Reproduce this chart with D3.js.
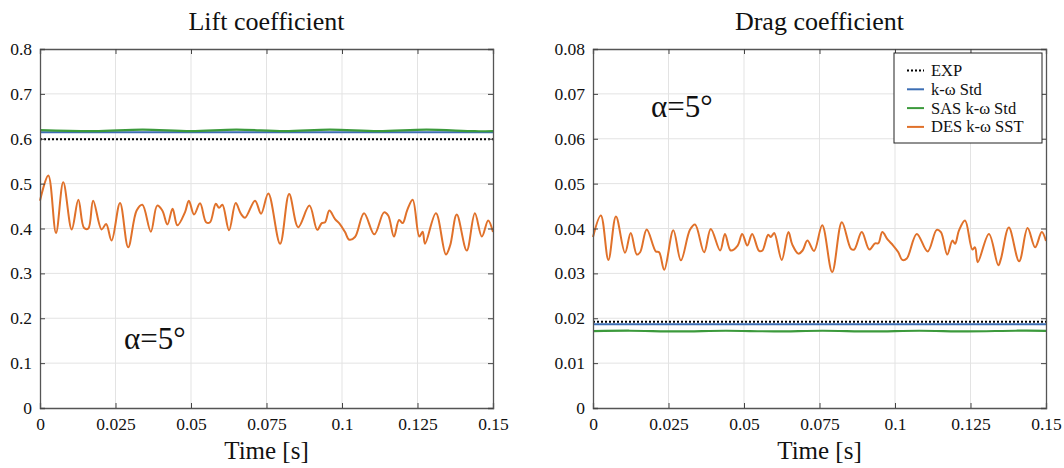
<!DOCTYPE html>
<html>
<head>
<meta charset="utf-8">
<script src="https://cdn.jsdelivr.net/npm/d3@7"></script>
<style>
  body { margin: 0; background: #fff; }
  text { font-family: "Liberation Serif", "DejaVu Serif", serif; fill: #111; }
  .grid line { stroke: #e3e3e3; stroke-width: 1; }
</style>
</head>
<body>
<svg id="chart" width="1064" height="468"></svg>
<script>
// time axis ticks
var timeTicks = [0, 0.025, 0.05, 0.075, 0.1, 0.125, 0.15];
var liftTicks = [0, 0.1, 0.2, 0.3, 0.4, 0.5, 0.6, 0.7, 0.8];
var dragTicks = [0, 0.01, 0.02, 0.03, 0.04, 0.05, 0.06, 0.07, 0.08];

// lift coefficient
var liftExp = [[0, 0.5987], [0.15, 0.5987]];
var liftStd = [[0, 0.6143], [0.15, 0.6143]];
var liftSasT = [0, 0.018, 0.034, 0.05, 0.065, 0.081, 0.096, 0.112, 0.128, 0.144, 0.15];
var liftSasV = [0.619, 0.6168, 0.6203, 0.6168, 0.6203, 0.6168, 0.6203, 0.6168, 0.6203, 0.6168, 0.6172];
var liftDesT = [0, 0.00275, 0.0053, 0.0077, 0.0105, 0.0127, 0.0146, 0.016, 0.0176, 0.0204, 0.0219, 0.0237,
  0.0265, 0.0292, 0.032, 0.0339, 0.0367, 0.0388, 0.0405, 0.0422, 0.0439, 0.0455, 0.048, 0.0493, 0.051,
  0.053, 0.055, 0.0563, 0.0582, 0.0593, 0.0604, 0.0626, 0.0648, 0.0665, 0.0679, 0.0712, 0.0732, 0.0756,
  0.0795, 0.0825, 0.0855, 0.0892, 0.0918, 0.0933, 0.0944, 0.0958, 0.0977, 0.0993, 0.101, 0.1024, 0.1043,
  0.1073, 0.1107, 0.1139, 0.1153, 0.1172, 0.1189, 0.1201, 0.1216, 0.1234, 0.1256, 0.1267, 0.1275, 0.1311,
  0.1344, 0.1358, 0.138, 0.1413, 0.144, 0.1463, 0.1484, 0.15];
var liftDesV = [0.462, 0.518, 0.39, 0.503, 0.398, 0.464, 0.401, 0.40, 0.462, 0.398, 0.41, 0.373,
  0.457, 0.358, 0.44, 0.453, 0.393, 0.451, 0.44, 0.409, 0.444, 0.407, 0.436, 0.462, 0.431,
  0.456, 0.414, 0.414, 0.455, 0.446, 0.453, 0.396, 0.457, 0.433, 0.424, 0.462, 0.433, 0.478,
  0.366, 0.477, 0.403, 0.451, 0.397, 0.412, 0.414, 0.44, 0.421, 0.41, 0.392, 0.375, 0.381,
  0.434, 0.387, 0.436, 0.429, 0.382, 0.419, 0.412, 0.441, 0.464, 0.382, 0.393, 0.366, 0.434,
  0.342, 0.362, 0.431, 0.351, 0.434, 0.382, 0.418, 0.392];

// drag coefficient
var dragExp = [[0, 0.01923], [0.15, 0.01923]];
var dragStd = [[0, 0.01865], [0.15, 0.01865]];
var dragSasT = [0, 0.012, 0.028, 0.044, 0.06, 0.076, 0.092, 0.108, 0.124, 0.14, 0.15];
var dragSasV = [0.01712, 0.01722, 0.01708, 0.01722, 0.01708, 0.01722, 0.01708, 0.01722, 0.01708, 0.01722, 0.0172];
var dragDesT = [0, 0.0026, 0.0051, 0.0076, 0.0106, 0.0125, 0.0145, 0.0156, 0.0178, 0.0208, 0.0219, 0.0236,
  0.0266, 0.0291, 0.0321, 0.0338, 0.0368, 0.039, 0.0421, 0.0437, 0.0456, 0.0479, 0.0494, 0.0511,
  0.0527, 0.055, 0.0561, 0.058, 0.0589, 0.06, 0.0625, 0.0647, 0.066, 0.068, 0.0694, 0.071, 0.0732,
  0.0759, 0.0792, 0.0824, 0.0854, 0.0865, 0.089, 0.0915, 0.0934, 0.0945, 0.0958, 0.0976, 0.0994,
  0.1011, 0.1024, 0.1039, 0.1072, 0.1108, 0.1138, 0.1152, 0.1173, 0.119, 0.1199, 0.1212, 0.1232,
  0.1256, 0.1265, 0.1274, 0.1311, 0.1342, 0.1351, 0.1377, 0.1411, 0.1439, 0.1464, 0.1486, 0.15];
var dragDesV = [0.0381, 0.0429, 0.033, 0.0427, 0.0346, 0.039, 0.0342, 0.0347, 0.0398, 0.0349, 0.0347, 0.0308,
  0.0396, 0.0329, 0.0397, 0.0409, 0.0347, 0.0399, 0.0351, 0.0388, 0.0351, 0.0362, 0.0388, 0.0362,
  0.0388, 0.035, 0.0351, 0.0386, 0.0381, 0.039, 0.033, 0.0392, 0.0364, 0.0344, 0.0351, 0.0373, 0.035,
  0.0407, 0.0303, 0.0414, 0.0355, 0.0353, 0.0392, 0.0353, 0.0367, 0.0367, 0.0392, 0.0375, 0.0362,
  0.0347, 0.033, 0.0333, 0.0388, 0.0349, 0.0397, 0.0392, 0.0342, 0.0373, 0.0366, 0.0396, 0.0418,
  0.0353, 0.0358, 0.0325, 0.0388, 0.0318, 0.0333, 0.0402, 0.0327, 0.0401, 0.0358, 0.0392, 0.0372];

var seriesNames = ["EXP", "k-\u03c9 Std", "SAS k-\u03c9 Std", "DES k-\u03c9 SST"];
var colors = {exp: "#000", std: "#3c6eb4", sas: "#3c9a3c", des: "#e0712a"};
var serif = "'Liberation Serif', 'DejaVu Serif', serif";

var svg = d3.select("#chart");

function zip(t, v) { return t.map(function(d, i) { return [d, v[i]]; }); }

function panel(opt) {
    var x = d3.scaleLinear().domain([0, 0.15]).range([opt.left, opt.left + 453]);
    var y = d3.scaleLinear().domain(opt.ydom).range([408, 49]);
    var g = svg.append("g");

    // grid
    var grid = g.append("g").attr("class", "grid");
    grid.selectAll(".vx").data(timeTicks.slice(1, -1)).enter().append("line")
        .attr("x1", function(d) { return x(d); }).attr("x2", function(d) { return x(d); })
        .attr("y1", y.range()[0]).attr("y2", y.range()[1]);
    grid.selectAll(".hy").data(opt.ticks.slice(1, -1)).enter().append("line")
        .attr("y1", function(d) { return y(d); }).attr("y2", function(d) { return y(d); })
        .attr("x1", x.range()[0]).attr("x2", x.range()[1]);

    var line = d3.line().x(function(d) { return x(d[0]); }).y(function(d) { return y(d[1]); });
    var smooth = d3.line().curve(d3.curveCatmullRom.alpha(0.5))
        .x(function(d) { return x(d[0]); }).y(function(d) { return y(d[1]); });

    g.append("path").attr("d", smooth(opt.des)).attr("fill", "none")
        .attr("stroke", colors.des).attr("stroke-width", 2);
    g.append("path").attr("d", line(opt.std)).attr("fill", "none")
        .attr("stroke", colors.std).attr("stroke-width", 2);
    g.append("path").attr("d", smooth(opt.sas)).attr("fill", "none")
        .attr("stroke", colors.sas).attr("stroke-width", 2.2);
    g.append("path").attr("d", line(opt.exp)).attr("fill", "none")
        .attr("stroke", colors.exp).attr("stroke-width", 2).attr("stroke-dasharray", "2,2");

    // axes (ticks inside, box on)
    var fmt = function(d) { return d3.format("")(+d.toFixed(4)); };
    g.append("g").attr("transform", "translate(0,408)")
        .call(d3.axisBottom(x).tickValues(timeTicks).tickSize(-5).tickPadding(10).tickFormat(fmt));
    g.append("g").attr("transform", "translate(0,49)")
        .call(d3.axisTop(x).tickValues(timeTicks).tickSize(-5).tickFormat(""));
    g.append("g").attr("transform", "translate(" + x.range()[0] + ",0)")
        .call(d3.axisLeft(y).tickValues(opt.ticks).tickSize(-5).tickPadding(8).tickFormat(fmt));
    g.append("g").attr("transform", "translate(" + x.range()[1] + ",0)")
        .call(d3.axisRight(y).tickValues(opt.ticks).tickSize(-5).tickFormat(""));
    g.selectAll(".domain").attr("stroke", "#555").attr("stroke-width", 1.3);
    g.selectAll(".tick line").attr("stroke", "#444");
    g.selectAll(".tick text").style("font-family", serif).style("font-size", "17.5px").attr("fill", "#111");

    // titles
    g.append("text").attr("x", (x.range()[0] + x.range()[1]) / 2).attr("y", 30)
        .attr("text-anchor", "middle").style("font-family", serif).style("font-size", "26px").text(opt.title);
    g.append("text").attr("x", (x.range()[0] + x.range()[1]) / 2).attr("y", 459)
        .attr("text-anchor", "middle").style("font-family", serif).style("font-size", "25px").text("Time [s]");
    g.append("text").attr("x", opt.alpha[0]).attr("y", opt.alpha[1])
        .style("font-family", serif).style("font-size", "31px").text("\u03b1=5\u00b0");
    return {x: x, y: y};
}

panel({left: 40, ydom: [0, 0.8], ticks: liftTicks, title: "Lift coefficient",
    exp: liftExp, std: liftStd, sas: zip(liftSasT, liftSasV), des: zip(liftDesT, liftDesV),
    alpha: [124, 349]});
panel({left: 593, ydom: [0, 0.08], ticks: dragTicks, title: "Drag coefficient",
    exp: dragExp, std: dragStd, sas: zip(dragSasT, dragSasV), des: zip(dragDesT, dragDesV),
    alpha: [651, 117]});

// legend
var lg = svg.append("g").attr("transform", "translate(894,53)");
lg.append("rect").attr("width", 148).attr("height", 90)
    .attr("fill", "#fff").attr("stroke", "#222").attr("stroke-width", 1);
var lgColors = [colors.exp, colors.std, colors.sas, colors.des];
var item = lg.selectAll(".item").data(seriesNames).enter().append("g")
    .attr("transform", function(d, i) { return "translate(0," + (17.5 + i * 18.8) + ")"; });
item.append("line").attr("x1", 13).attr("x2", 30)
    .attr("stroke", function(d, i) { return lgColors[i]; }).attr("stroke-width", 2)
    .attr("stroke-dasharray", function(d, i) { return i == 0 ? "2,2" : null; });
item.append("text").attr("x", 37).attr("y", 5.5).style("font-family", serif).style("font-size", "16.5px")
    .text(function(d) { return d; });
</script>
</body>
</html>
